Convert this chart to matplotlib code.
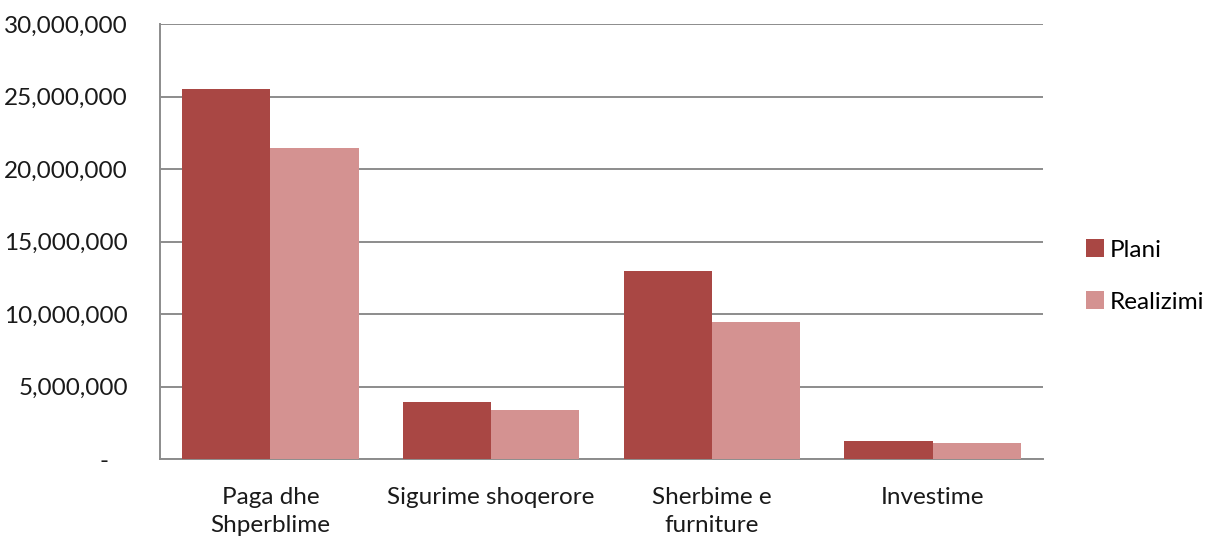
import matplotlib
matplotlib.use("Agg")
import matplotlib.pyplot as plt
import numpy as np
from matplotlib.ticker import FuncFormatter

categories = ["Paga dhe\nShperblime", "Sigurime shoqerore", "Sherbime e\nfurniture", "Investime"]
plani = [25550000, 3900000, 12990000, 1260000]
realizimi = [21480000, 3370000, 9470000, 1080000]
series_names = ["Plani", "Realizimi"]
colors = ["#A94744", "#D49291"]
yticks = [0, 5000000, 10000000, 15000000, 20000000, 25000000, 30000000]

plt.rcParams['font.family'] = ['Lato', 'DejaVu Sans']

fig = plt.figure(figsize=(12.12, 5.37), dpi=100)
ax = fig.add_axes([160/1212, 1-459/537, (1043-160)/1212, (459-24)/537])

x = np.arange(len(categories))
w = 0.4
b1 = ax.bar(x - w/2, plani, w, color=colors[0], label=series_names[0], zorder=3)
b2 = ax.bar(x + w/2, realizimi, w, color=colors[1], label=series_names[1], zorder=3)

ax.set_xlim(-0.5, len(categories) - 0.5)
ax.set_ylim(0, 30000000)
ax.set_yticks(yticks)
ax.yaxis.set_major_formatter(FuncFormatter(lambda v, p: "-   " if v == 0 else f"{int(v):,}"))
ax.set_xticks(x)
ax.set_xticklabels(categories, fontsize=17.5, color="#1a1a1a", linespacing=1.45)
ax.tick_params(axis='y', labelsize=17.5, labelcolor="#1a1a1a", length=0, pad=23)
ax.tick_params(axis='x', length=0, pad=20)

ax.grid(axis='y', color="#8c8c8c", linewidth=1.4, zorder=0)
ax.set_axisbelow(True)
for s in ['top', 'right']:
    ax.spines[s].set_visible(False)
ax.spines['left'].set_color("#8c8c8c")
ax.spines['left'].set_linewidth(1.4)
ax.spines['bottom'].set_color("#8c8c8c")
ax.spines['bottom'].set_linewidth(1.4)

leg = fig.legend(handles=[b1, b2], labels=series_names, loc='center left',
                 bbox_to_anchor=(1064/1212, 1-276/537), frameon=False, fontsize=17.5,
                 handlelength=0.75, handleheight=0.75, handletextpad=0.25, labelspacing=1.25)

fig.savefig("out.png", dpi=100)
